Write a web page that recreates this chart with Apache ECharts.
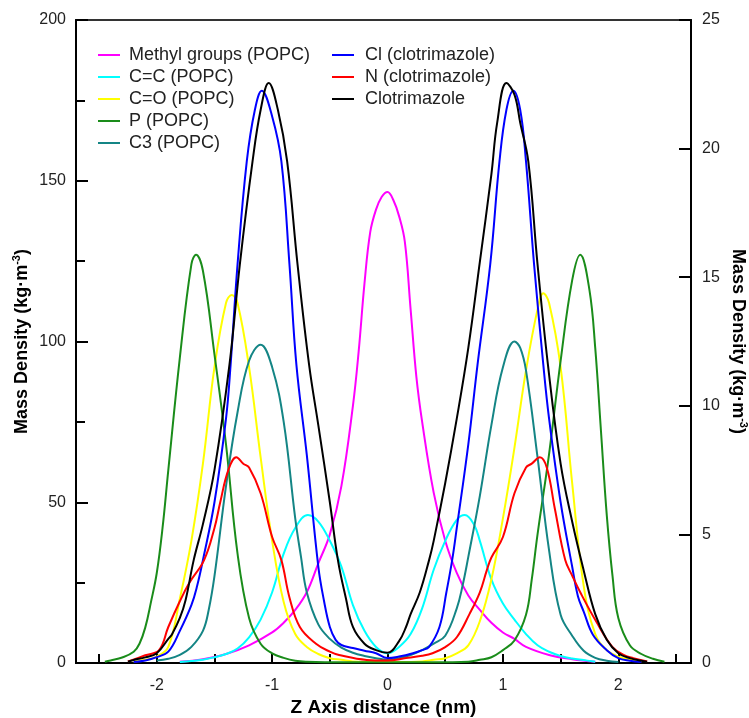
<!DOCTYPE html>
<html>
<head>
<meta charset="utf-8">
<script src="https://cdn.jsdelivr.net/npm/echarts@6/dist/echarts.min.js"></script>
<style>html,body{margin:0;padding:0;background:#fff}#c{width:749px;height:718px}</style>
</head>
<body>
<div id="c"></div>
<script>
// ---- data (Z in nm, densities in kg·m-3) ----
// POPC groups (left axis)
const methylZ = [-1.8,-1.6,-1.4,-1.2,-1.0,-0.9,-0.8,-0.7,-0.6,-0.5,-0.4,-0.3,-0.25,-0.2,-0.15,-0.1,-0.05,0,0.05,0.1,0.15,0.2,0.25,0.3,0.4,0.5,0.6,0.7,0.8,0.9,1.0,1.1,1.2,1.4,1.6,1.8];
const methylD = [0.4,1.2,2.8,5.5,9.5,12.5,16.5,22,31,40,55,80,97,118,134,141,145,146.5,144,139,131,110,89,75,53,38,28,21,16.5,12.5,9.5,7.5,5,2.5,1.2,0.4];

const ccZ = [-1.8,-1.7,-1.6,-1.5,-1.4,-1.3,-1.2,-1.1,-1.0,-0.9,-0.8,-0.69,-0.6,-0.5,-0.4,-0.3,-0.2,-0.1,0,0.1,0.2,0.3,0.4,0.5,0.6,0.67,0.75,0.8,0.9,1.0,1.1,1.2,1.3,1.4,1.5,1.6,1.7,1.8];
const ccD = [0.3,0.6,1,1.8,2.8,4.5,8,13.5,22,34,42,46,44,38,30,18,10,5,3,5,9,17,29,38,44.5,46,43,38,26,18.5,13.5,9,5.5,3.5,2.2,1.4,0.9,0.4];

const coZ = [-2.2,-2.1,-2.0,-1.9,-1.8,-1.7,-1.6,-1.5,-1.4,-1.35,-1.3,-1.2,-1.1,-1.0,-0.9,-0.8,-0.7,-0.6,-0.5,-0.4,-0.3,-0.1,0.1,0.3,0.4,0.5,0.6,0.7,0.8,0.9,1.0,1.1,1.2,1.3,1.35,1.4,1.5,1.6,1.7,1.8,1.9,2.0,2.1,2.2];
const coD = [0.5,1,2,5,20,38,62,92,112,114.5,112,92,64,38,19,9,5,2.8,1.5,1,0.5,0.3,0.3,0.5,1,1.5,3,5.5,13,26,45,67,91,110,115,112,92,56,24,9,4,2,1,0.5];

const pZ = [-2.45,-2.4,-2.3,-2.2,-2.15,-2.1,-2.05,-2.0,-1.95,-1.9,-1.8,-1.7,-1.66,-1.6,-1.5,-1.4,-1.3,-1.2,-1.1,-1.0,-0.9,-0.8,-0.7,-0.4,0,0.4,0.7,0.8,0.9,1.0,1.1,1.2,1.25,1.3,1.4,1.5,1.6,1.67,1.75,1.8,1.85,1.9,1.95,2.0,2.1,2.2,2.3,2.4];
const pD = [0.4,0.8,1.7,3.5,6,11,19,28,42,60,95,124,127,122,96,68,34,14,6,3,1.6,0.7,0.4,0.2,0.2,0.2,0.4,1,1.8,4,7,15,26,40,65,94,119,127,116,98,72,46,27,14,5.5,2.8,1.3,0.4];

const c3Z = [-2.0,-1.9,-1.8,-1.7,-1.6,-1.55,-1.5,-1.4,-1.3,-1.2,-1.1,-1.0,-0.9,-0.8,-0.75,-0.7,-0.6,-0.5,-0.4,-0.3,-0.2,-0.1,0,0.1,0.2,0.3,0.4,0.5,0.6,0.65,0.7,0.8,0.9,1.0,1.1,1.15,1.2,1.3,1.4,1.5,1.6,1.7,1.8,1.9,2.0];
const c3D = [0.8,1.3,2.5,5,10,16.5,27,55,78,94,99,92,75,45,33,22,12,7.5,4.8,3.2,2.2,1.5,1,1.5,2.5,4,6,8.5,17,24,33,52,74,92,100,98,91,64,35,15,8.5,3.8,1.6,0.7,0.3];

// Clotrimazole (right axis)
const clZ = [-2.2,-2.1,-2.0,-1.9,-1.8,-1.7,-1.65,-1.6,-1.5,-1.4,-1.36,-1.3,-1.22,-1.15,-1.09,-1.0,-0.92,-0.85,-0.79,-0.7,-0.6,-0.55,-0.5,-0.45,-0.4,-0.3,-0.2,-0.1,0,0.1,0.22,0.3,0.36,0.45,0.51,0.56,0.6,0.7,0.78,0.89,0.97,1.03,1.09,1.15,1.2,1.27,1.35,1.4,1.5,1.6,1.65,1.7,1.78,1.9,2.0,2.1,2.2];
const clD = [0.04,0.1,0.23,0.44,1.25,2.25,3.0,4.0,6.25,9.5,11.6,15.5,19.5,21.5,22.25,21.25,19.5,15.5,11.6,8.1,3.75,2.4,1.4,0.9,0.7,0.58,0.48,0.38,0.19,0.25,0.38,0.5,0.63,1.4,2.75,4.0,5.25,8.5,11.6,15.5,19.5,21.5,22.25,21.5,19.5,15.5,11.6,9.5,6.25,3.75,2.6,2.0,1.1,0.5,0.19,0.09,0.04];

const nZ = [-2.25,-2.21,-2.1,-1.98,-1.9,-1.8,-1.72,-1.59,-1.5,-1.45,-1.38,-1.31,-1.25,-1.2,-1.1,-1.0,-0.92,-0.85,-0.76,-0.62,-0.5,-0.42,-0.18,0,0.16,0.3,0.39,0.5,0.6,0.71,0.8,0.86,0.9,1.0,1.1,1.2,1.25,1.32,1.38,1.45,1.54,1.6,1.67,1.81,1.95,2.05,2.13,2.25];
const nD = [0.06,0.12,0.3,0.5,1.4,2.4,3.1,4.0,5.25,6.25,7.5,8.0,7.75,7.6,6.6,4.9,4.0,2.55,1.4,0.75,0.44,0.31,0.12,0.1,0.19,0.28,0.38,0.62,1.0,1.9,2.75,3.6,4.1,4.9,6.6,7.6,7.75,8.0,7.6,6.0,4.0,3.4,2.75,1.6,0.62,0.31,0.19,0.06];

const clotZ = [-2.25,-2.2,-2.1,-2.0,-1.9,-1.87,-1.8,-1.75,-1.68,-1.6,-1.5,-1.37,-1.28,-1.17,-1.1,-1.03,-0.95,-0.87,-0.78,-0.68,-0.6,-0.5,-0.43,-0.36,-0.3,-0.2,-0.1,0,0.1,0.16,0.2,0.28,0.36,0.4,0.5,0.6,0.7,0.8,0.9,0.95,1.03,1.1,1.15,1.22,1.3,1.39,1.5,1.6,1.7,1.8,1.9,2.0,2.1,2.2,2.25];
const clotD = [0.05,0.12,0.22,0.38,0.94,1.1,1.75,2.45,4.0,5.4,7.5,11.6,15.5,19.5,21.5,22.55,21.5,19.5,15.5,11.6,9.25,6.25,4.0,2.5,1.4,0.75,0.5,0.4,0.85,1.4,1.9,2.75,4.0,4.75,7.0,9.5,12.25,15.6,19.0,21.0,22.55,22.1,21.0,19.5,15.5,11.6,7.75,5.5,3.6,1.9,0.9,0.38,0.19,0.09,0.05];

const names = ['Methyl groups (POPC)','C=C (POPC)','C=O (POPC)','P (POPC)','C3 (POPC)','Cl (clotrimazole)','N (clotrimazole)','Clotrimazole'];
const xTicks = [-2.5,-2,-1.5,-1,-0.5,0,0.5,1,1.5,2,2.5];
const xLabels = [-2,-1,0,1,2];

const zip = (z, d) => z.map((v, i) => [v, d[i]]);
const F = 'Liberation Sans, Arial, Helvetica, sans-serif';

const defs = [
  [methylZ, methylD, '#ff00ff', 0],
  [ccZ, ccD, '#00ffff', 0],
  [coZ, coD, '#ffff00', 0],
  [pZ, pD, '#1a8c1a', 0],
  [c3Z, c3D, '#148585', 0],
  [clZ, clD, '#0000ff', 1],
  [nZ, nD, '#ff0000', 1],
  [clotZ, clotD, '#000000', 1]
];

const series = defs.map((s, i) => ({
  name: names[i], type: 'line', yAxisIndex: s[3],
  data: zip(s[0], s[1]), symbol: 'none', showSymbol: false,
  smooth: 0.4,
  lineStyle: { color: s[2], width: 2 }, itemStyle: { color: s[2] },
  animation: false
}));

const nameRich = {
  sup: { fontSize: 11, fontWeight: 'bold', fontFamily: F, verticalAlign: 'top', lineHeight: 12, color: '#000' }
};

const legendBase = {
  orient: 'vertical', top: 41, itemWidth: 22, itemHeight: 2, itemGap: 4, icon: 'rect',
  textStyle: { fontFamily: F, fontSize: 18, color: '#222', lineHeight: 18, padding: [0, 0, 0, 4] }
};

const chart = echarts.init(document.getElementById('c'), null, { renderer: 'canvas' });
chart.setOption({
  animation: false,
  backgroundColor: '#fff',
  textStyle: { fontFamily: F },
  grid: { left: 76, right: 58, top: 20, bottom: 55, outerBoundsMode: 'none', containLabel: false,
    show: true, borderColor: '#333', borderWidth: 2, backgroundColor: 'transparent' },
  legend: [
    Object.assign({}, legendBase, { data: names.slice(0, 5), left: 93 }),
    Object.assign({}, legendBase, { data: names.slice(5), left: 327,
      textStyle: Object.assign({}, legendBase.textStyle, { padding: [0, 0, 0, 6] }) })
  ],
  xAxis: {
    type: 'value', min: -2.7, max: 2.63,
    name: 'Z Axis distance (nm)', nameLocation: 'middle', nameGap: 35, nameMoveOverlap: false,
    nameTextStyle: { fontFamily: F, fontSize: 19, fontWeight: 'bold', color: '#000' },
    axisLine: { show: true, onZero: false, lineStyle: { color: '#000', width: 2 } },
    axisTick: { show: true, inside: true, length: 9, customValues: xTicks, lineStyle: { color: '#000', width: 2 } },
    axisLabel: { customValues: xLabels, fontFamily: F, fontSize: 16, color: '#222', margin: 15,
      formatter: v => String(v) },
    splitLine: { show: false }
  },
  yAxis: [
    {
      type: 'value', min: 0, max: 200, interval: 50, position: 'left',
      name: 'Mass Density (kg·m{sup|-3})', nameLocation: 'middle', nameGap: 43, nameRotate: 90, nameMoveOverlap: false,
      nameTextStyle: { fontFamily: F, fontSize: 18, fontWeight: 'bold', color: '#000', lineHeight: 22, rich: nameRich },
      axisLine: { show: true, onZero: false, lineStyle: { color: '#000', width: 2 } },
      axisTick: { show: true, inside: true, length: 12, lineStyle: { color: '#000', width: 2 } },
      minorTick: { show: true, splitNumber: 2, length: 9, lineStyle: { color: '#000', width: 2 } },
      axisLabel: { fontFamily: F, fontSize: 16, color: '#222', margin: 10 },
      splitLine: { show: false }, minorSplitLine: { show: false }
    },
    {
      type: 'value', min: 0, max: 25, interval: 5, position: 'right',
      name: 'Mass Density (kg·m{sup|-3})', nameLocation: 'middle', nameGap: 36, nameRotate: -90, nameMoveOverlap: false,
      nameTextStyle: { fontFamily: F, fontSize: 18, fontWeight: 'bold', color: '#000', lineHeight: 22, rich: nameRich },
      axisLine: { show: true, onZero: false, lineStyle: { color: '#000', width: 2 } },
      axisTick: { show: true, inside: true, length: 12, lineStyle: { color: '#000', width: 2 } },
      axisLabel: { fontFamily: F, fontSize: 16, color: '#222', margin: 11 },
      splitLine: { show: false }
    }
  ],
  series: series
});
</script>
</body>
</html>
